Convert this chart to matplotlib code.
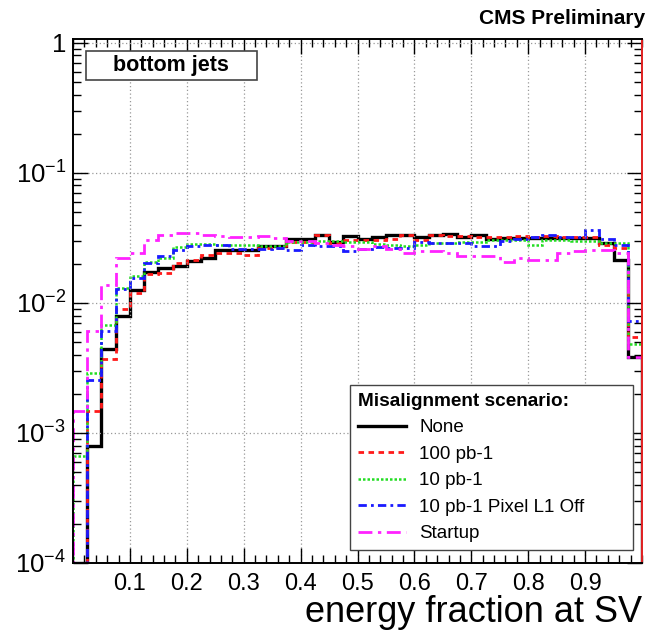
import numpy as np
import matplotlib
matplotlib.use("Agg")
import matplotlib.pyplot as plt
from matplotlib.ticker import FixedLocator, FuncFormatter, MultipleLocator, LogLocator
from matplotlib.patches import Rectangle

# --- DATA: energy fraction at SV, 40 bins of 0.025 ---
bin_edges = np.linspace(0.0, 1.0, 41)

none_vals = [1e-4, 8.0e-4, 4.4e-3, 7.9e-3, 1.26e-2, 1.73e-2, 1.84e-2, 1.91e-2, 2.09e-2, 2.2e-2,
             2.57e-2, 2.57e-2, 2.57e-2, 2.76e-2, 2.76e-2, 3.1e-2, 3.1e-2, 3.3e-2, 2.92e-2, 3.25e-2,
             3.1e-2, 3.2e-2, 3.3e-2, 3.3e-2, 3.2e-2, 3.3e-2, 3.4e-2, 3.2e-2, 3.35e-2, 3.1e-2,
             3.15e-2, 3.15e-2, 3.15e-2, 3.15e-2, 3.15e-2, 3.15e-2, 3.15e-2, 2.9e-2, 2.15e-2, 3.85e-3]

pb100_vals = [1e-4, 1.47e-3, 3.7e-3, 9.0e-3, 1.2e-2, 1.68e-2, 1.7e-2, 2.03e-2, 2.15e-2, 2.35e-2,
              2.42e-2, 2.4e-2, 2.35e-2, 2.65e-2, 2.65e-2, 2.92e-2, 2.92e-2, 3.35e-2, 2.9e-2, 3.07e-2,
              3.07e-2, 3.05e-2, 3.1e-2, 3.3e-2, 3.05e-2, 3.3e-2, 3.25e-2, 3.25e-2, 3.2e-2, 3.2e-2,
              3.2e-2, 3.25e-2, 3.2e-2, 3.25e-2, 3.2e-2, 3.2e-2, 3.2e-2, 2.8e-2, 2.65e-2, 5.5e-3]

pb10_vals = [6.6e-4, 2.9e-3, 6.8e-3, 1.3e-2, 1.6e-2, 2.05e-2, 2.22e-2, 2.7e-2, 2.85e-2, 2.85e-2,
             2.8e-2, 2.8e-2, 2.8e-2, 2.75e-2, 2.73e-2, 2.92e-2, 2.92e-2, 2.97e-2, 2.97e-2, 2.95e-2,
             2.92e-2, 2.85e-2, 2.8e-2, 2.73e-2, 2.8e-2, 2.9e-2, 2.9e-2, 2.92e-2, 2.95e-2, 3.05e-2,
             3.05e-2, 3.05e-2, 2.8e-2, 3.05e-2, 3.05e-2, 3.0e-2, 3.0e-2, 2.9e-2, 2.9e-2, 4.8e-3]

pb10_l1off_vals = [1e-4, 2.54e-3, 6.05e-3, 1.28e-2, 1.55e-2, 2.03e-2, 2.3e-2, 2.57e-2, 2.75e-2, 2.8e-2,
                   2.8e-2, 2.6e-2, 2.6e-2, 2.6e-2, 2.65e-2, 2.57e-2, 2.8e-2, 2.75e-2, 2.75e-2, 2.5e-2,
                   2.6e-2, 2.7e-2, 2.65e-2, 2.65e-2, 2.92e-2, 2.9e-2, 2.87e-2, 2.87e-2, 2.75e-2, 2.73e-2,
                   3.0e-2, 3.1e-2, 3.2e-2, 3.35e-2, 3.2e-2, 3.2e-2, 3.66e-2, 3.1e-2, 2.8e-2, 7.2e-3]

startup_vals = [1.47e-3, 6.1e-3, 1.38e-2, 2.22e-2, 2.42e-2, 3.03e-2, 3.3e-2, 3.46e-2, 3.46e-2, 3.35e-2,
                3.27e-2, 3.2e-2, 3.2e-2, 3.25e-2, 3.16e-2, 2.97e-2, 2.97e-2, 2.9e-2, 2.8e-2, 2.73e-2,
                2.6e-2, 2.75e-2, 2.6e-2, 2.42e-2, 2.5e-2, 2.5e-2, 2.42e-2, 2.28e-2, 2.28e-2, 2.28e-2,
                2.05e-2, 2.2e-2, 2.15e-2, 2.15e-2, 2.42e-2, 2.5e-2, 2.57e-2, 2.57e-2, 2.42e-2, 3.85e-3]

labels = ["None", "100 pb-1", "10 pb-1", "10 pb-1 Pixel L1 Off", "Startup"]
x_ticks = [0.1, 0.2, 0.3, 0.4, 0.5, 0.6, 0.7, 0.8, 0.9]
y_ticks = [1e-4, 1e-3, 1e-2, 1e-1, 1.0]

# --- STYLE ---
plt.rcParams['font.family'] = ['Liberation Sans', 'DejaVu Sans']
plt.rcParams['mathtext.fontset'] = 'custom'
plt.rcParams['mathtext.rm'] = 'Liberation Sans'
plt.rcParams['mathtext.it'] = 'Liberation Sans'
plt.rcParams['mathtext.bf'] = 'Liberation Sans:bold'

series = [
    (none_vals, 'black', '-', 2.4),
    (pb100_vals, '#ff1a1a', (0, (2.0, 1.6)), 2.0),
    (pb10_vals, '#22dd22', (0, (1.0, 0.8)), 1.8),
    (pb10_l1off_vals, '#1a1aff', (0, (3.0, 1.5, 1.0, 1.5)), 2.0),
    (startup_vals, '#ff22ff', (0, (5.0, 2.0, 1.2, 2.0)), 2.0),
]

fig = plt.figure(figsize=(6.49, 6.39), dpi=100)
ax = fig.add_axes([73 / 649, 76 / 639, 569 / 649, 524 / 639])
ax.set_yscale('log')

for (vals, col, ls, lw), lab in zip(series, labels):
    ax.stairs(vals, bin_edges, baseline=1e-6, color=col, linestyle=ls, linewidth=lw, label=lab)

ax.set_xlim(0, 1)
ax.set_ylim(1e-4, 1.07)

# --- AXES & GRID ---
ax.xaxis.set_major_locator(FixedLocator(x_ticks))
ax.xaxis.set_minor_locator(MultipleLocator(0.02))
ax.yaxis.set_major_locator(FixedLocator(y_ticks))
ax.yaxis.set_minor_locator(LogLocator(base=10, subs=np.arange(2, 10)))
ax.yaxis.set_major_formatter(FuncFormatter(
    lambda v, p: '1' if abs(v - 1) < 1e-9 else r'$10^{%d}$' % round(np.log10(v))))
ax.xaxis.set_major_formatter(FuncFormatter(lambda v, p: f'{v:.1f}'))

ax.tick_params(which='both', direction='in', top=True, right=True, width=1.0)
ax.tick_params(axis='x', labelsize=17, pad=7)
ax.tick_params(axis='y', labelsize=18.5, pad=5)
ax.tick_params(which='major', length=11)
ax.tick_params(which='minor', length=6)
ax.grid(which='major', color='#999999', linestyle=(0, (1, 2)), linewidth=0.9)
for s in ax.spines.values():
    s.set_linewidth(1.4)
ax.spines['right'].set_color('#e02020')

ax.set_xlabel("energy fraction at SV", fontsize=26, loc='right', labelpad=0)

# --- LEGEND ---
leg = ax.legend(title="Misalignment scenario:", loc='lower left',
                bbox_to_anchor=(0.487, 0.025, 0.497, 0.32), mode='expand',
                fontsize=13.5, title_fontproperties={'weight': 'bold', 'size': 13.7},
                alignment='left', handlelength=2.6, handletextpad=0.7,
                labelspacing=0.5, borderpad=0.4, frameon=True, fancybox=False,
                edgecolor='#444444', framealpha=1.0, borderaxespad=0)
leg.get_frame().set_linewidth(1.0)

# --- LABEL BOX ---
ax.add_patch(Rectangle((0.0228, 0.922), 0.300, 0.055, transform=ax.transAxes,
                       facecolor='white', edgecolor='#444444', linewidth=1.2, zorder=5))
ax.text(0.173, 0.949, "bottom jets", transform=ax.transAxes, ha='center', va='center',
        fontsize=15.5, fontweight='bold', zorder=6)

fig.text(645 / 649, 1 - 19 / 639, "CMS Preliminary", ha='right', va='center',
         fontsize=15, fontweight='bold')

plt.savefig('out.png', dpi=100)
